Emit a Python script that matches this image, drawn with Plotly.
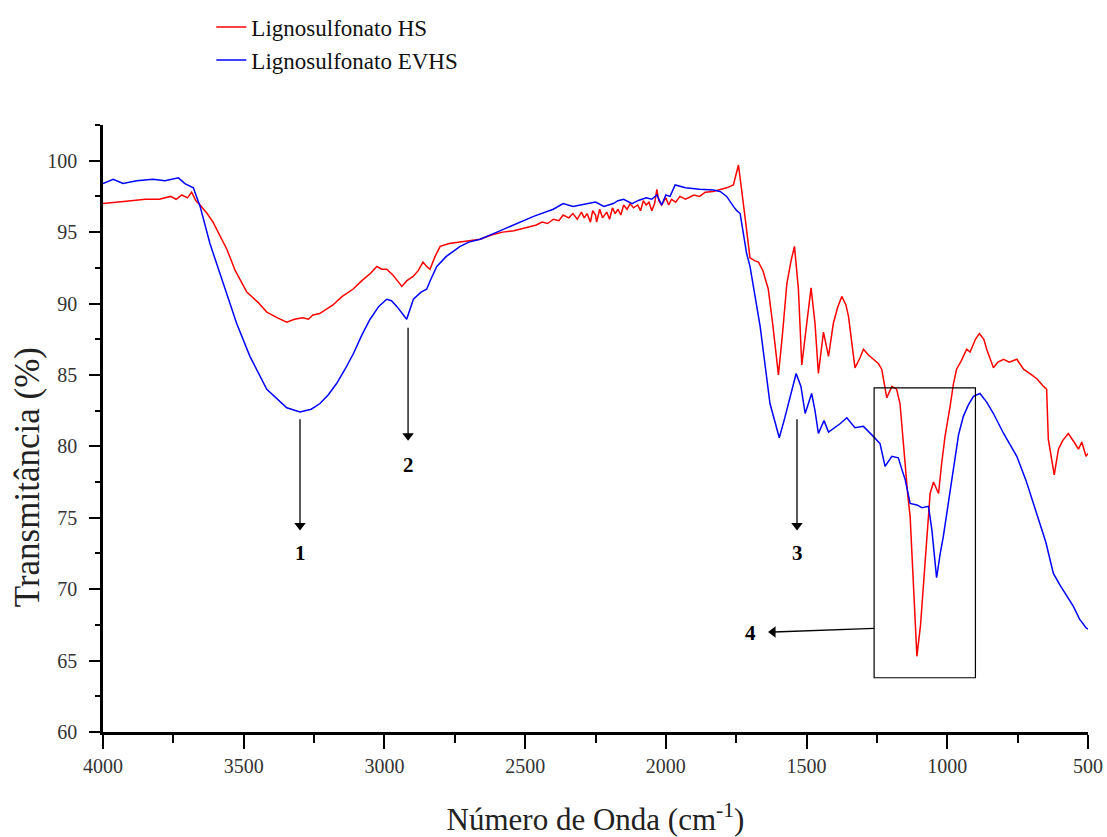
import plotly.graph_objects as go

# ---- data (wavenumber cm-1, transmittance %) ----
hs_wn = [4000, 3960, 3900, 3850, 3800, 3760, 3740, 3720, 3700, 3685, 3670, 3655, 3630, 3609, 3585,
         3560, 3530, 3500, 3489, 3450, 3418, 3380, 3347, 3320, 3290, 3270, 3254, 3230, 3200, 3183,
         3150, 3112, 3080, 3050, 3027, 3010, 2992, 2970, 2950, 2938, 2920, 2898, 2880, 2863, 2850,
         2838, 2820, 2802, 2770, 2731, 2700, 2660, 2620, 2580, 2540, 2483, 2460, 2440, 2420, 2400,
         2380, 2365, 2345, 2330, 2315, 2300, 2290, 2280, 2268, 2260, 2250, 2246, 2235, 2225, 2210,
         2200, 2190, 2180, 2170, 2160, 2150, 2138, 2127, 2115, 2100, 2090, 2080, 2070, 2060, 2050,
         2040, 2032, 2025, 2015, 2000, 1990, 1980, 1965, 1950, 1930, 1900, 1880, 1860, 1832, 1800,
         1784, 1760, 1742, 1719, 1701, 1685, 1671,
         1655, 1636, 1620, 1600, 1585, 1570, 1555, 1543, 1529, 1517, 1500, 1484, 1470, 1458, 1440,
         1422, 1405, 1390, 1375, 1360, 1351, 1340, 1328, 1310, 1298, 1280, 1263, 1245, 1233, 1215,
         1197, 1180, 1168, 1156, 1140, 1132, 1120, 1108, 1095, 1085, 1070, 1061, 1049, 1031, 1020,
         1008, 990, 978, 967, 950, 931, 919, 900, 886, 870, 860, 836, 820, 800, 780,
         753, 729, 700, 680, 658, 647, 641, 628, 620, 605, 590, 570, 555, 546, 534,
         522, 507, 500]
hs_t = [97.0, 97.1, 97.2, 97.3, 97.3, 97.5, 97.3, 97.6, 97.4, 97.8, 97.2, 96.9, 96.3, 95.7, 94.8,
        93.8, 92.3, 91.2, 90.8, 90.1, 89.4, 89.0, 88.7, 88.9, 89.0, 88.9, 89.2, 89.3, 89.7, 89.9,
        90.5, 91.0, 91.6, 92.1, 92.6, 92.4, 92.4, 92.0, 91.5, 91.2, 91.6, 91.9, 92.3, 92.9, 92.6,
        92.4, 93.3, 94.0, 94.2, 94.3, 94.4, 94.5, 94.8, 95.0, 95.1, 95.4, 95.5, 95.7, 95.6, 95.9,
        95.8, 96.2, 96.0, 96.3, 95.9, 96.4, 96.0, 96.3, 95.7, 96.5, 96.2, 95.7, 96.6, 96.0, 96.4,
        95.9, 96.7, 96.3, 96.6, 96.2, 96.9, 96.6, 97.0, 96.7, 96.9, 96.5, 97.2, 96.9, 97.1, 96.5,
        97.0, 98.0, 97.2, 96.9, 97.4, 96.9, 97.3, 97.1, 97.5, 97.3, 97.6, 97.5, 97.8, 97.85, 98.0,
        98.1, 98.3, 99.7, 96.1, 93.2, 93.0, 92.9,
        92.3, 91.0, 88.5, 85.0, 88.0, 91.4, 93.0, 94.0, 91.0, 85.7, 88.5, 91.1, 88.6, 85.1, 88.0,
        86.3, 88.6, 89.7, 90.5, 89.9, 89.1, 87.5, 85.5, 86.2, 86.8, 86.4, 86.1, 85.8, 85.4, 83.4,
        84.2, 84.0, 83.0, 80.0, 76.5, 75.1, 70.5, 65.3, 67.5, 70.4, 74.5, 76.7, 77.5, 76.7, 78.8,
        80.7, 82.8, 84.4, 85.4, 86.0, 86.8, 86.6, 87.5, 87.9, 87.5, 86.8, 85.5, 85.9, 86.1, 85.9,
        86.1, 85.4, 85.0, 84.7, 84.2, 84.0, 80.5, 78.8, 78.0, 79.8, 80.4, 80.9, 80.5, 80.2, 79.8,
        80.3, 79.3, 79.5]

evhs_wn = [4000, 3964, 3929, 3880, 3822, 3780, 3732, 3709, 3679, 3655, 3620, 3572, 3525, 3478, 3418,
           3347, 3300, 3260, 3229, 3200, 3170, 3140, 3110, 3080, 3051, 3020, 2992, 2975, 2956, 2921,
           2897, 2870, 2850, 2835, 2814, 2780, 2731, 2700, 2660, 2600, 2542, 2470, 2400, 2365, 2330,
           2300, 2270, 2250, 2220, 2187, 2170, 2150, 2120, 2100, 2070, 2050, 2032, 2015, 2000, 1985,
           1967, 1930, 1880, 1831, 1807, 1784, 1760, 1748,
           1736, 1713, 1701, 1665, 1630, 1610, 1597, 1580, 1565, 1537, 1520, 1505, 1482, 1470, 1458,
           1438, 1422, 1400, 1380, 1357, 1340, 1328, 1298, 1280, 1263, 1239, 1221, 1197, 1174, 1160,
           1150, 1132, 1108, 1090, 1067, 1055, 1038, 1025, 1014, 995, 978, 960, 943, 925, 907,
           884, 860, 836, 800, 753, 720, 682, 650, 623, 600, 552, 530, 507, 500]
evhs_t = [98.4, 98.7, 98.4, 98.6, 98.7, 98.6, 98.8, 98.4, 98.1, 96.8, 94.2, 91.4, 88.6, 86.3, 84.0,
          82.7, 82.4, 82.6, 83.0, 83.6, 84.4, 85.4, 86.5, 87.8, 88.9, 89.8, 90.3, 90.2, 89.8, 88.9,
          90.3, 90.8, 91.0, 91.7, 92.6, 93.3, 94.0, 94.3, 94.5, 95.0, 95.5, 96.1, 96.6, 97.0, 96.8,
          96.9, 97.0, 97.1, 96.8, 97.0, 97.2, 97.3, 97.0, 97.2, 97.4, 97.3, 97.6, 96.9, 97.6, 97.5,
          98.3, 98.1, 98.0, 97.95, 97.85, 97.5, 96.8, 96.5,
          96.3, 93.5, 92.6, 88.4, 83.0, 81.5, 80.6, 81.8, 83.0, 85.1, 84.2, 82.3, 83.7, 82.5, 80.9,
          81.8, 81.0, 81.3, 81.6, 82.0, 81.6, 81.3, 81.4, 81.0, 80.7, 80.2, 78.6, 79.3, 79.2, 78.3,
          77.7, 76.0, 75.9, 75.7, 75.8, 74.2, 70.8, 72.5, 73.7, 76.2, 78.6, 80.8, 82.1, 82.9, 83.5,
          83.7, 83.1, 82.3, 80.9, 79.3, 77.6, 75.3, 73.3, 71.1, 70.3, 68.8, 67.9, 67.3, 67.2]

series_names = ["Lignosulfonato HS", "Lignosulfonato EVHS"]
x_ticks = [4000, 3500, 3000, 2500, 2000, 1500, 1000, 500]
y_ticks = [60, 65, 70, 75, 80, 85, 90, 95, 100]

# vertical arrows for peaks 1-3
peak_labels = ["1", "2", "3"]
peak_x = [3300, 2916, 1534]
peak_tail_y = [81.9, 88.3, 81.9]
peak_tip_y = [74.0, 80.3, 74.0]
peak_label_y = [72.5, 78.7, 72.5]

# horizontal arrow for region 4 and the highlight box
box_x = [1260, 900]
box_y = [63.8, 84.1]
arrow4_tail = [1260, 67.25]
arrow4_tip = [1637, 67.0]
label4_pos = [1701, 66.95]

serif = "Liberation Serif, Times New Roman, serif"

fig = go.Figure()
fig.add_trace(go.Scatter(x=hs_wn, y=hs_t, mode="lines", name=series_names[0],
                         line=dict(color="#ff0000", width=1.5)))
fig.add_trace(go.Scatter(x=evhs_wn, y=evhs_t, mode="lines", name=series_names[1],
                         line=dict(color="#0000ff", width=1.5)))

fig.add_shape(type="rect", x0=box_x[0], x1=box_x[1], y0=box_y[0], y1=box_y[1],
              line=dict(color="black", width=1.2), fillcolor="rgba(0,0,0,0)")

# arrow shafts
for px, ty, hy in zip(peak_x, peak_tail_y, peak_tip_y):
    fig.add_shape(type="line", x0=px, x1=px, y0=ty, y1=hy + 0.3,
                  line=dict(color="black", width=1.3))
fig.add_shape(type="line", x0=arrow4_tail[0], y0=arrow4_tail[1], x1=arrow4_tip[0] - 20,
              y1=arrow4_tip[1], line=dict(color="black", width=1.3))

# arrow heads (filled triangles)
fig.add_trace(go.Scatter(x=peak_x, y=[v + 0.45 for v in peak_tip_y], mode="markers",
                         marker=dict(symbol="triangle-down", size=10, color="black", line=dict(width=0)),
                         showlegend=False, hoverinfo="skip"))
fig.add_trace(go.Scatter(x=[arrow4_tip[0] - 18], y=[arrow4_tip[1]], mode="markers",
                         marker=dict(symbol="triangle-left", size=10, color="black", line=dict(width=0)),
                         showlegend=False, hoverinfo="skip"))

for lab, px, ly in zip(peak_labels, peak_x, peak_label_y):
    fig.add_annotation(x=px, y=ly, text=f"<b>{lab}</b>", showarrow=False,
                       font=dict(family=serif, size=21, color="black"))
fig.add_annotation(x=label4_pos[0], y=label4_pos[1], text="<b>4</b>", showarrow=False,
                   font=dict(family=serif, size=21, color="black"))

# y title as annotation (positioned like the reference)
fig.add_annotation(xref="paper", yref="paper", x=-0.077, y=0.42, text="Transmitância (%)",
                   textangle=-90, showarrow=False, xanchor="center", yanchor="middle",
                   font=dict(family=serif, size=35, color="#222"))

fig.update_layout(
    width=1107, height=837,
    margin=dict(l=103, r=19, t=125, b=105, autoexpand=False),
    paper_bgcolor="white", plot_bgcolor="white",
    font=dict(family=serif, color="#222"),
    legend=dict(x=0.11, y=1.1966, xanchor="left", yanchor="top",
                font=dict(family=serif, size=23, color="#111"),
                bgcolor="rgba(0,0,0,0)", tracegroupgap=0),
    showlegend=True,
)
fig.update_xaxes(range=[4000, 500], tickvals=x_ticks, ticktext=[str(v) for v in x_ticks],
                 automargin=False,
                 showgrid=False, zeroline=False, showline=True, linecolor="black", linewidth=2.5,
                 ticks="outside", ticklen=14, tickwidth=2, tickcolor="black",
                 minor=dict(dtick=250, ticks="outside", ticklen=8, tickwidth=2, tickcolor="black"),
                 tickfont=dict(family=serif, size=20, color="#333"),
                 title=dict(text="Número de Onda (cm<sup>-1</sup>)",
                            font=dict(family=serif, size=31, color="#222"), standoff=34))
fig.update_yaxes(range=[60, 102.5], tickvals=y_ticks, ticktext=[str(v) for v in y_ticks],
                 automargin=False,
                 showgrid=False, zeroline=False, showline=True, linecolor="black", linewidth=2.5,
                 ticks="outside", ticklen=11, tickwidth=2, tickcolor="black", ticklabelstandoff=8,
                 minor=dict(dtick=2.5, ticks="outside", ticklen=5, tickwidth=2, tickcolor="black"),
                 tickfont=dict(family=serif, size=20, color="#333"))

fig.write_html("out.html")
